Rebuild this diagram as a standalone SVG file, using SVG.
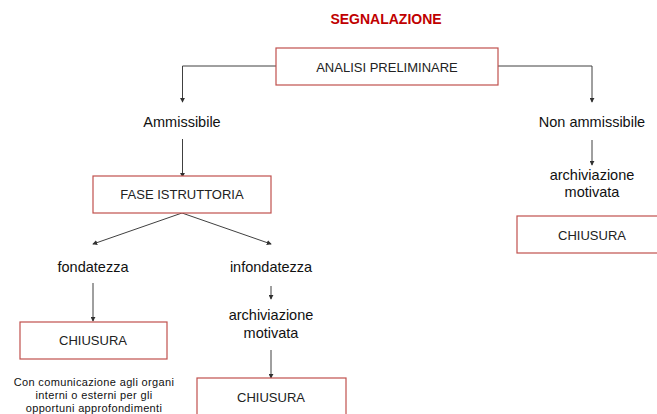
<svg xmlns="http://www.w3.org/2000/svg" width="657" height="414" viewBox="0 0 657 414">
<defs>
<marker id="ah" viewBox="0 0 6 6" refX="5" refY="3" markerWidth="5" markerHeight="5" orient="auto" markerUnits="userSpaceOnUse">
<path d="M0,0 L6,3 L0,6 Z" fill="#303030"/>
</marker>
<style>
.box{fill:#fff;stroke:#c0504d;stroke-width:1.2}
.bt{font-family:"Liberation Sans",Arial,sans-serif;font-size:13px;fill:#222;text-anchor:middle}
.lt{font-family:"Liberation Sans",Arial,sans-serif;font-size:14.5px;fill:#111;text-anchor:middle}
.st{font-family:"Liberation Sans",Arial,sans-serif;font-size:11px;letter-spacing:0.35px;fill:#111;text-anchor:middle}
.c{fill:none;stroke:#404040;stroke-width:1;marker-end:url(#ah)}
</style>
</defs>
<rect width="657" height="414" fill="#fff"/>
<text id="title" x="386" y="24" font-family="Liberation Sans,Arial,sans-serif" font-weight="bold" font-size="14" fill="#c00000" text-anchor="middle">SEGNALAZIONE</text>
<g id="connectors">
<path class="c" d="M276,66 H182.5 V102"/>
<path class="c" d="M498,66 H592 V102"/>
<path class="c" d="M182.5,139 V177"/>
<path class="c" d="M182,213 L93,244"/>
<path class="c" d="M182,213 L271,244"/>
<path class="c" d="M93,283 V321"/>
<path class="c" d="M271,286 V299"/>
<path class="c" d="M271,350 V378"/>
<path class="c" d="M592,140 V165"/>
</g>
<g id="analisi"><rect class="box" x="276" y="48" width="222" height="37"/><text class="bt" x="387" y="72">ANALISI PRELIMINARE</text></g>
<g id="ammissibile"><text class="lt" x="182" y="127">Ammissibile</text></g>
<g id="non-ammissibile"><text class="lt" x="592" y="127">Non ammissibile</text></g>
<g id="fase"><rect class="box" x="93" y="176" width="178" height="37"/><text class="bt" x="182" y="199">FASE ISTRUTTORIA</text></g>
<g id="fondatezza"><text class="lt" x="93" y="272">fondatezza</text></g>
<g id="infondatezza"><text class="lt" x="271" y="272">infondatezza</text></g>
<g id="chiusura1"><rect class="box" x="20" y="322" width="147" height="37"/><text class="bt" x="93" y="345">CHIUSURA</text></g>
<g id="nota"><text class="st" x="94" y="386">Con comunicazione agli organi</text><text class="st" x="94" y="399">interni o esterni per gli</text><text class="st" x="94" y="412">opportuni approfondimenti</text></g>
<g id="archiviazione1"><text class="lt" x="271" y="320">archiviazione</text><text class="lt" x="271" y="338">motivata</text></g>
<g id="chiusura2"><rect class="box" x="197" y="378" width="149" height="40"/><text class="bt" x="271" y="402">CHIUSURA</text></g>
<g id="archiviazione2"><text class="lt" x="592" y="180">archiviazione</text><text class="lt" x="592" y="197">motivata</text></g>
<g id="chiusura3"><rect class="box" x="517" y="216" width="145" height="37"/><text class="bt" x="592" y="240">CHIUSURA</text></g>
</svg>
